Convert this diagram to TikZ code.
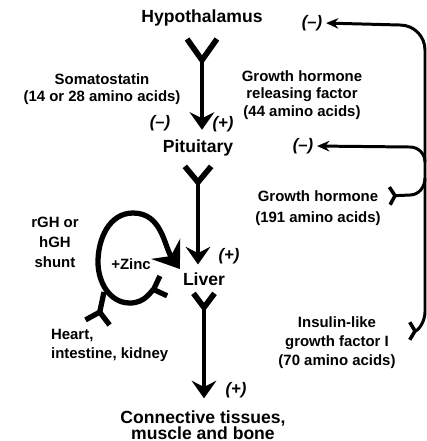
\documentclass[tikz,border=0pt]{standalone}
\usepackage{fontspec}
\setmainfont{Liberation Sans}
\usetikzlibrary{arrows.meta}

\begin{document}
\begin{tikzpicture}[
x=0.02cm, y=0.02cm,
big/.style={font=\bfseries\fontsize{10}{11}\selectfont, align=center, inner sep=1pt},
lbl/.style={font=\bfseries\fontsize{8.5}{10}\selectfont, align=center, inner sep=1pt},
sgn/.style={font=\bfseries\itshape\fontsize{9.5}{10}\selectfont, inner sep=1pt},
mainarr/.style 2 args={line width=2.6pt, {Straight Barb[reversed,length=#1,width=#2,line width=3.2pt]}-{Stealth[length=10pt,width=14pt,inset=3.5pt]}},
shuntarc/.style={line width=3pt, {Straight Barb[reversed,length=6pt,width=12pt,line width=3pt]}-{Stealth[length=14pt,width=20pt,inset=5pt]}},
fb/.style={line width=1.7pt, -{Stealth[length=7pt,width=6pt]}},
bracket/.style={line width=1.7pt, {Straight Barb[reversed,length=3pt,width=10pt,line width=2pt]}-}
]
\useasboundingbox (0,0) rectangle (427,-441);

% main chain
\node[big] (hypo) at (202,-18) {Hypothalamus};
\node[big] (pit) at (198,-148) {Pituitary};
\node[big] (liver) at (204,-279) {Liver};
\node[big, font=\bfseries\fontsize{10}{9.2}\selectfont] (conn) at (203,-425) {Connective tissues,\\muscle and bone};

% labels
\node[lbl, font=\bfseries\fontsize{8.5}{9.6}\selectfont] (soma) at (102,-89) {Somatostatin\\(14 or 28 amino acids)};
\node[lbl, font=\bfseries\fontsize{8.5}{9.9}\selectfont] (ghrf) at (302,-95) {Growth hormone\\releasing factor\\(44 amino acids)};
\node[lbl, font=\bfseries\fontsize{8.5}{11.9}\selectfont] (gh) at (318,-208) {Growth hormone\\(191 amino acids)};
\node[lbl, font=\bfseries\fontsize{8.5}{10.8}\selectfont] (igf) at (337,-343) {Insulin-like\\growth factor I\\(70 amino acids)};
\node[lbl, font=\bfseries\fontsize{8.5}{11.3}\selectfont] (shunt) at (55,-242) {rGH or\\hGH\\shunt};
\node[lbl] (zinc) at (131,-264) {+Zinc};
\node[lbl, anchor=west] (heart) at (49,-336) {Heart,};
\node[lbl, anchor=west] (organs) at (49,-355) {intestine, kidney};

% signs
\node[sgn] (hneg) at (312,-23) {(–)};
\node[sgn] (pneg) at (303,-146) {(–)};
\node[sgn] (sneg) at (160,-123) {(–)};
\node[sgn] (spos) at (223,-124) {(+)};
\node[sgn] (lpos) at (229,-256) {(+)};
\node[sgn] (cpos) at (236,-390) {(+)};

\draw[mainarr={12pt}{17pt}, shorten <=4.5pt, shorten >=4.5pt] (hypo.south) -- (hypo.south |- pit.north);
\draw[mainarr={9pt}{15pt}, shorten <=3pt, shorten >=3.4pt] (pit.south) -- (pit.south |- liver.north);
\draw[mainarr={8pt}{12pt}, shorten <=1.7pt, shorten >=5.7pt] (liver.south) -- (liver.south |- conn.north);

% shunt loop
\coordinate (lfork) at (166,-285);
\coordinate (hfork) at (97,-325);
\draw[shuntarc, shorten >=1pt]
  (lfork) to[out=200,in=0] (130,-303) to[out=180,in=-90] (98,-262) to[out=90,in=180] (133,-213) to[out=0,in=125] (liver.north west);
\draw[line width=3pt, {Straight Barb[reversed,length=6pt,width=14pt,line width=3pt]}-] (hfork) -- (104,-292);

% feedback
\coordinate (igfbr) at (408,-331);
\coordinate (ghbr) at (388,-196);
\draw[line width=1.7pt, {Straight Barb[reversed,length=3pt,width=10pt,line width=2pt]}-{Stealth[length=7pt,width=6pt]}, shorten >=1pt]
  (igfbr) to[out=0,in=-90] (425,-312) -- (425,-50) to[out=90,in=0] (400,-25) -- (hneg.east);
\draw[fb, shorten >=1pt] (425,-162) to[out=90,in=0] (410,-147) -- (pneg.east);
\draw[bracket] (ghbr) -- (410,-195) to[out=0,in=-90] (425,-178);
\end{tikzpicture}
\end{document}
